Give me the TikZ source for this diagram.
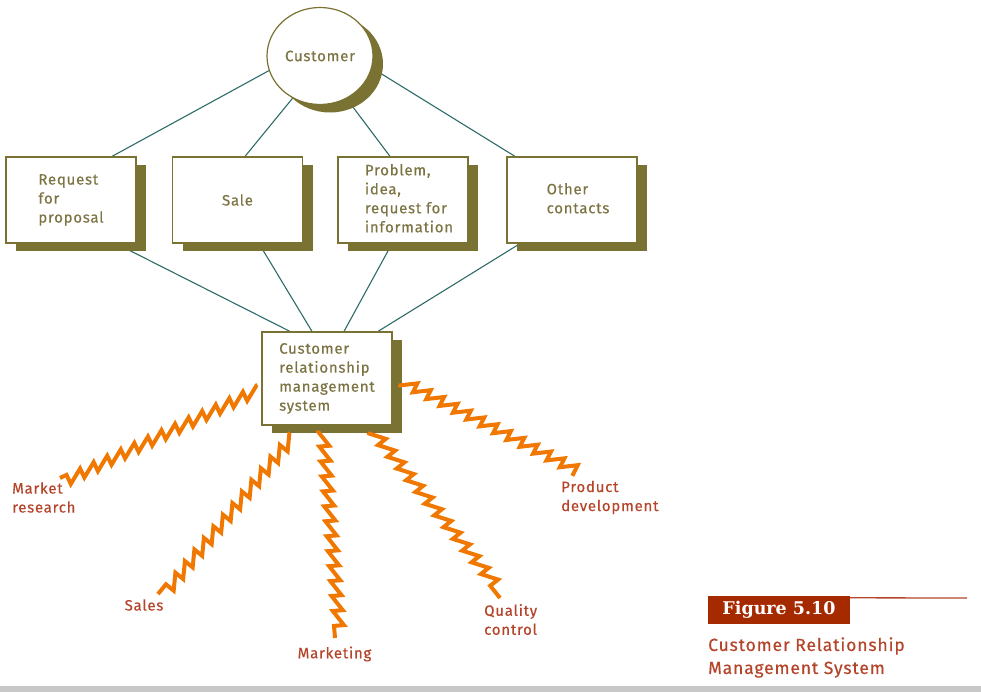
\documentclass[tikz,border=0pt]{standalone}
\usepackage{fontspec}
\setmainfont[LetterSpace=5,FakeBold=0.4]{Fira Sans}
\newfontfamily\figfont{DejaVu Serif}
\usetikzlibrary{shapes.geometric,decorations.pathmorphing,calc,backgrounds,shadows}
\definecolor{olivec}{HTML}{7A7232}
\definecolor{olivetext}{HTML}{7D7444}
\definecolor{linecol}{HTML}{2E6B68}
\definecolor{boltcol}{HTML}{F07800}
\definecolor{labcol}{HTML}{B4452A}
\definecolor{figred}{HTML}{A52A00}
\definecolor{barcol}{HTML}{C8C8C8}
\tikzset{
  shad/.style={drop shadow={shadow xshift=10pt,shadow yshift=-8pt,fill=olivec,opacity=1}},
  box/.style={draw=olivec, line width=1.2pt, fill=white, minimum width=130pt,
    minimum height=86pt, inner sep=0pt, shad, text=olivetext,
    font=\fontsize{15}{19}\selectfont, align=left},
  conn/.style={draw=linecol, line width=1.1pt},
  bolt/.style={draw=boltcol, line width=4pt, line join=miter, miter limit=20,
    decorate, decoration={saw, segment length=15pt, amplitude=10pt,
    pre length=1pt, post length=1pt}},
  lab/.style={text=labcol, font=\fontsize{15}{19}\selectfont, align=left, inner sep=0pt}
}
\begin{document}
\begin{tikzpicture}[x=1pt,y=-1pt]
\useasboundingbox (0,0) rectangle (981,692);
\fill[barcol] (0,686) rectangle (981,692);

% nodes
\node[ellipse, draw=olivec, line width=1.2pt, fill=white, minimum width=106pt,
  minimum height=97pt, inner sep=0pt, shad, text=olivetext,
  font=\fontsize{15}{19}\selectfont] (cust) at (320,56) {Customer};
\node[box] (b1) at (71,200) {Request\\for\\proposal};
\node[box] (b2) at (237.5,200) {\raisebox{-4pt}{Sale}};
\node[box] (b3) at (403,200) {\hspace*{12pt}\begin{tabular}{@{}l@{}}Problem,\\idea,\\request for\\information\end{tabular}};
\node[box] (b4) at (572,200) {\hspace*{12pt}\raisebox{-4pt}{\begin{tabular}{@{}l@{}}Other\\contacts\end{tabular}}};
\node[box, minimum height=93pt] (crm) at (327,378.5) {Customer\\relationship\\management\\system};

% connectors
\begin{scope}[on background layer]
\draw[conn] (cust.196) -- ($(b1.north)+(41,0)$);
\draw[conn] (cust.237) -- ($(b2.north)+(7.5,0)$);
\draw[conn] (cust.302) -- ($(b3.north)+(-13,0)$);
\draw[conn] (cust.347) -- ($(b4.north)+(-57,0)$);
\draw[conn] ($(b1.south)+(45,0)$) -- ($(crm.north)+(-37,0)$);
\draw[conn] ($(b2.south)+(21.5,0)$) -- ($(crm.north)+(-15,0)$);
\draw[conn] ($(b3.south)+(-11,0)$) -- ($(crm.north)+(17,0)$);
\draw[conn] ($(b4.south)+(-52,0)$) -- ($(crm.north)+(51,0)$);
\end{scope}

% bolt ends
\coordinate (emr) at (60,478);
\coordinate (esa) at (158,594);
\coordinate (ema) at (335,638);
\coordinate (equ) at (500,598);
\coordinate (epd) at (575,475);
\draw[bolt] ($(crm.west)+(-4,6.5)$) -- (emr);
\draw[bolt] ($(crm.south)+(-37,7)$) -- (esa);
\draw[bolt] ($(crm.south)+(-9,5)$) -- (ema);
\draw[bolt] ($(crm.south)+(41,7)$) -- (equ);
\draw[bolt] ($(crm.east)+(6,6.5)$) -- (epd);

% labels
\node[lab, anchor=west] (lmr) at (12,497.5) {Market\\research};
\node[lab] (lsa) at (144,605) {Sales};
\node[lab] (lma) at (334.5,654) {Marketing};
\node[lab, anchor=west] (lqu) at (484,619.5) {Quality\\control};
\node[lab, anchor=west] (lpd) at (561,497.5) {Product\\development};

% figure caption
\node[fill=figred, minimum width=142pt, minimum height=28pt, inner sep=0pt,
  text=white, font=\figfont\bfseries\fontsize{17.5}{17.5}\selectfont] (fig) at (779,610) {Figure 5.10};
\coordinate (figend) at (967,598);
\draw[labcol, line width=1.3pt] ($(fig.north east)+(0,2)$) -- (figend);
\node[anchor=west, text=labcol, font=\fontsize{17.5}{23}\selectfont, align=left, inner sep=0pt]
  (cap) at (708,657.5) {Customer Relationship\\Management System};
\end{tikzpicture}
\end{document}
